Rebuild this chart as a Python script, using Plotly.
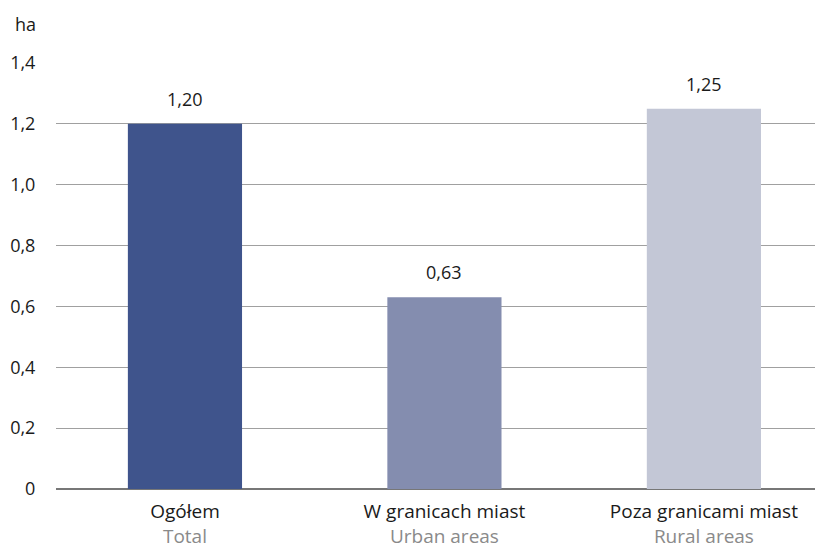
import plotly.graph_objects as go

categories_pl = ["Ogółem", "W granicach miast", "Poza granicami miast"]
categories_en = ["Total", "Urban areas", "Rural areas"]
values = [1.20, 0.63, 1.25]
bar_colors = ["#3f548c", "#848daf", "#c3c7d6"]
y_tickvals = [0, 0.2, 0.4, 0.6, 0.8, 1.0, 1.2, 1.4]
y_ticktext = ["0", "0,2", "0,4", "0,6", "0,8", "1,0", "1,2", "1,4"]

FONT = "Open Sans"
x = list(range(len(categories_pl)))
ticktext = [f"{pl}<br><span style='color:#8a8a8a'>{en}</span>" for pl, en in zip(categories_pl, categories_en)]

fig = go.Figure()
fig.add_trace(go.Bar(
    x=x, y=values, marker=dict(color=bar_colors, line=dict(width=0)),
    width=0.44, hoverinfo="skip",
))

annotations = [dict(text="ha", xref="paper", yref="paper", x=0, y=1,
                    xshift=-43, yshift=25, xanchor="left", yanchor="bottom",
                    showarrow=False, font=dict(size=18, family=FONT, color="#1a1a1a"))]
for xi, v in zip(x, values):
    annotations.append(dict(
        x=xi, y=v, xref="x", yref="y", text=f"{v:.2f}".replace(".", ","),
        showarrow=False, xanchor="center", yanchor="bottom", yshift=11,
        font=dict(size=18, family=FONT, color="#1a1a1a"),
    ))

fig.update_layout(
    width=815, height=540,
    margin=dict(l=48, r=0, t=55, b=59),
    paper_bgcolor="white", plot_bgcolor="white",
    separators=", ",
    showlegend=False,
    font=dict(family=FONT, size=18, color="#1a1a1a"),
    xaxis=dict(
        tickmode="array", tickvals=x, ticktext=ticktext,
        range=[-0.497, 2.459], showgrid=False, zeroline=False,
        showline=False, ticks="", tickfont=dict(size=19, family=FONT),
        ticklabelstandoff=9, automargin=False,
    ),
    yaxis=dict(
        range=[0, 1.4], tickmode="array", tickvals=y_tickvals, ticktext=y_ticktext,
        showgrid=True, gridcolor="#a0a0a0", gridwidth=1,
        zeroline=True, zerolinecolor="#777777", zerolinewidth=1.5,
        showline=False, ticks="outside", ticklen=16, tickcolor="rgba(0,0,0,0)",
        tickfont=dict(size=18, family=FONT), automargin=False,
    ),
    annotations=annotations,
)
fig.write_html("out.html")
